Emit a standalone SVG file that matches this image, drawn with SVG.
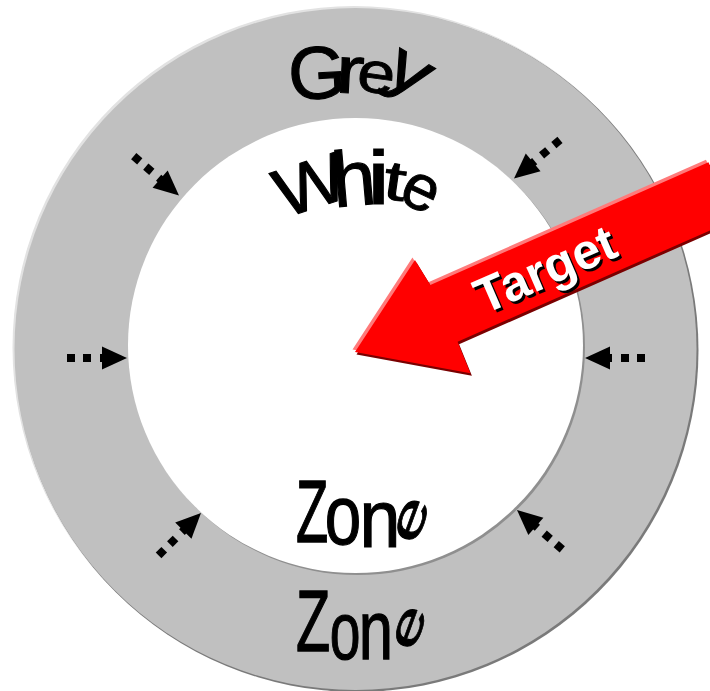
<svg xmlns="http://www.w3.org/2000/svg" width="710" height="691" viewBox="0 0 710 691">
<defs>
<style>
.lt{font-family:"Liberation Sans",Arial,sans-serif;font-weight:normal;font-size:80px;fill:#000;text-anchor:middle;stroke:#000;stroke-width:1.2px}
.tg{font-family:"Liberation Sans",Arial,sans-serif;font-weight:bold;font-size:50px;text-anchor:middle}
</style>
<g id="darr"><rect x="-60" y="-4" width="8" height="8"/><rect x="-44" y="-4" width="8" height="8"/><rect x="-27" y="-4" width="8" height="8"/><polygon points="-25,-11.5 0,0 -25,11.5"/></g>
<polygon id="rarrow" points="0,0 92,-60 96,-31 400,-31 400,32 98,32 97,66"/>
</defs>
<rect width="710" height="691" fill="#fff"/>
<g id="outer-zone">
<circle cx="354" cy="347.5" r="341.5" fill="#e2e2e2"/>
<circle cx="357" cy="350.5" r="341.5" fill="#7a7a7a"/>
<circle cx="355.5" cy="349" r="341" fill="#c0c0c0"/>
<text class="lt" transform="translate(317,72) rotate(-3) scale(0.93,0.93)" y="28.6">G</text>
<text class="lt" transform="translate(350,75.5) rotate(3) scale(1.07,0.83)" y="21">r</text>
<text class="lt" transform="translate(376,77.5) rotate(8) scale(0.85,0.72)" y="21">e</text>
<text class="lt" transform="translate(405,80) rotate(30) scale(1.05,0.85)" y="12.4">y</text>
<text class="lt" transform="translate(313,619.5) scale(0.7,1.1)" y="28.6">Z</text>
<text class="lt" transform="translate(345,638) scale(0.69,1.02)" y="21">o</text>
<text class="lt" transform="translate(376,637) scale(0.77,1.05)" y="21">n</text>
<text class="lt" transform="translate(410,628) rotate(-70) scale(1.0,0.55)" y="21">e</text>
</g>
<g id="inner-zone">
<circle cx="357.5" cy="347.5" r="227.5" fill="#8f8f8f"/>
<circle cx="355.5" cy="345.5" r="227.5" fill="#fff"/>
<text class="lt" transform="translate(310,184) rotate(-18) scale(0.96,0.86)" y="28.6">W</text>
<text class="lt" transform="translate(353.5,177.5) rotate(-5) scale(0.98,0.98)" y="28.6">h</text>
<text class="lt" transform="translate(378.5,176.5) scale(1.3,0.95)" y="28.6">i</text>
<text class="lt" transform="translate(395,181.5) rotate(8) scale(1.0,0.7)" y="26.5">t</text>
<text class="lt" transform="translate(420,192.5) rotate(25) scale(0.8,0.8)" y="21">e</text>
<text class="lt" transform="translate(312,510) scale(0.66,1.12)" y="28.6">Z</text>
<text class="lt" transform="translate(343,522) scale(0.82,1.05)" y="21">o</text>
<text class="lt" transform="translate(380,526) scale(0.92,1.02)" y="21">n</text>
<text class="lt" transform="translate(412,520) rotate(-70) scale(1.04,0.58)" y="21">e</text>
</g>
<g id="connectors">
<use href="#darr" transform="translate(127,358)"/>
<use href="#darr" transform="translate(585,358) rotate(180)"/>
<use href="#darr" transform="translate(179,195.5) rotate(41)"/>
<use href="#darr" transform="translate(514,178.5) rotate(140)"/>
<use href="#darr" transform="translate(201,513) rotate(-45)"/>
<use href="#darr" transform="translate(517,510) rotate(-139)"/>
</g>
<g id="target-arrow">
<use href="#rarrow" fill="#ff7a7a" transform="translate(352.5,349.5) rotate(-23.8)"/>
<use href="#rarrow" fill="#7a0000" transform="translate(356.5,354.5) rotate(-23.8)"/>
<use href="#rarrow" fill="#ff0000" transform="translate(355,352) rotate(-23.8)"/>
<text class="tg" fill="#000" transform="translate(554.5,287.5) rotate(-23.5)">Target</text>
<text class="tg" fill="#fff" transform="translate(552,285) rotate(-23.5)">Target</text>
</g>
</svg>
